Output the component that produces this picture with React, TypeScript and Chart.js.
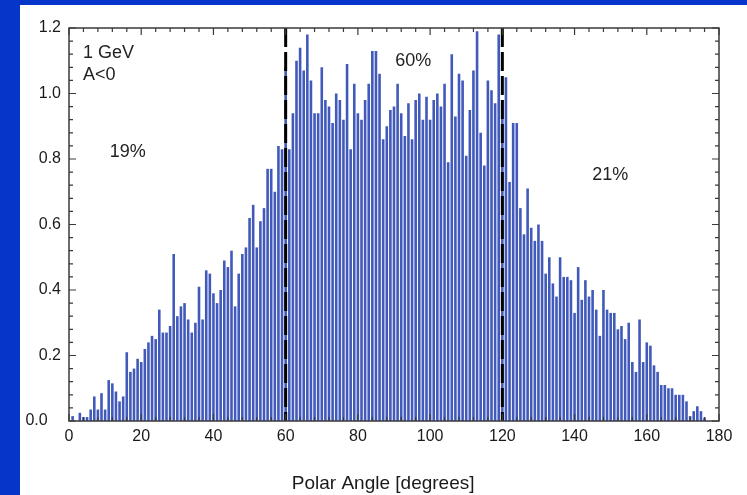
import { useEffect, useRef } from 'react';
import { Chart, registerables } from 'chart.js';

Chart.register(...registerables);

// Bin centres in degrees (1-degree histogram bins)
const angles = [
  0, 1, 2, 3, 4, 5, 6, 7, 8, 9, 10, 11, 12, 13, 14, 15, 16, 17, 18, 19,
  20, 21, 22, 23, 24, 25, 26, 27, 28, 29, 30, 31, 32, 33, 34, 35, 36, 37, 38, 39,
  40, 41, 42, 43, 44, 45, 46, 47, 48, 49, 50, 51, 52, 53, 54, 55, 56, 57, 58, 59,
  60, 61, 62, 63, 64, 65, 66, 67, 68, 69, 70, 71, 72, 73, 74, 75, 76, 77, 78, 79,
  80, 81, 82, 83, 84, 85, 86, 87, 88, 89, 90, 91, 92, 93, 94, 95, 96, 97, 98, 99,
  100, 101, 102, 103, 104, 105, 106, 107, 108, 109, 110, 111, 112, 113, 114, 115, 116, 117, 118, 119,
  120, 121, 122, 123, 124, 125, 126, 127, 128, 129, 130, 131, 132, 133, 134, 135, 136, 137, 138, 139,
  140, 141, 142, 143, 144, 145, 146, 147, 148, 149, 150, 151, 152, 153, 154, 155, 156, 157, 158, 159,
  160, 161, 162, 163, 164, 165, 166, 167, 168, 169, 170, 171, 172, 173, 174, 175, 176, 177, 178, 179,
];

// Relative yield per bin
const yields = [
  0, 0.015, 0, 0.025, 0.012, 0.012, 0.035, 0.075, 0.035, 0.085,
  0.035, 0.125, 0.115, 0.09, 0.06, 0.075, 0.21, 0.15, 0.16, 0.19,
  0.18, 0.22, 0.24, 0.26, 0.25, 0.34, 0.27, 0.27, 0.29, 0.51,
  0.32, 0.35, 0.36, 0.31, 0.27, 0.30, 0.41, 0.31, 0.46, 0.45,
  0.39, 0.36, 0.40, 0.49, 0.47, 0.52, 0.35, 0.45, 0.51, 0.53,
  0.62, 0.66, 0.53, 0.61, 0.65, 0.77, 0.77, 0.70, 0.84, 0.83,
  1.08, 0.83, 0.94, 1.10, 1.14, 1.07, 1.18, 1.04, 0.94, 0.94,
  1.08, 0.98, 0.96, 0.91, 1.00, 0.98, 0.92, 1.09, 0.83, 1.03,
  0.94, 0.92, 0.98, 1.03, 1.13, 1.13, 1.06, 0.86, 0.90, 0.95,
  0.96, 1.03, 0.94, 0.87, 0.97, 0.86, 0.98, 1.00, 0.92, 0.99,
  0.92, 0.98, 1.00, 0.96, 1.03, 0.79, 1.12, 0.93, 1.06, 1.04,
  0.81, 0.95, 1.07, 1.19, 0.88, 0.78, 1.04, 1.01, 0.97, 1.18,
  0.98, 1.05, 0.73, 0.91, 0.91, 0.65, 0.57, 0.71, 0.59, 0.55,
  0.60, 0.55, 0.45, 0.50, 0.42, 0.38, 0.50, 0.44, 0.44, 0.43,
  0.33, 0.47, 0.37, 0.43, 0.38, 0.40, 0.34, 0.26, 0.40, 0.34,
  0.33, 0.33, 0.28, 0.29, 0.25, 0.30, 0.18, 0.15, 0.31, 0.18,
  0.24, 0.23, 0.17, 0.15, 0.11, 0.11, 0.10, 0.10, 0.08, 0.08,
  0.08, 0.06, 0.015, 0.03, 0.045, 0.03, 0.01, 0, 0, 0,
];

// Region boundaries (degrees) and region labels
const cutAngles = [60, 120];
const noteTexts = ['1 GeV', 'A<0', '19%', '60%', '21%'];
const noteAngles = [3.9, 3.9, 16.3, 95.3, 149.9];
const noteValues = [1.124, 1.057, 0.82, 1.1, 0.75];
const noteAlign: CanvasTextAlign[] = ['left', 'left', 'center', 'center', 'center'];

const xTitle = 'Polar Angle [degrees]';
const FONT = '"Liberation Sans", Arial, Helvetica, sans-serif';

const framePlugin = {
  id: 'frameAndMarks',
  afterDatasetsDraw(chart: any) {
    const { ctx, chartArea: a, scales } = chart;
    const x = scales.x;
    const y = scales.y;
    ctx.save();

    // dashed region boundaries
    ctx.strokeStyle = '#000';
    ctx.lineWidth = 3;
    ctx.setLineDash([19, 5]);
    for (const c of cutAngles) {
      const px = x.getPixelForValue(c);
      ctx.beginPath();
      ctx.moveTo(px, a.top);
      ctx.lineTo(px, a.bottom);
      ctx.stroke();
    }
    ctx.setLineDash([]);

    // frame
    ctx.strokeStyle = '#3a3a3a';
    ctx.lineWidth = 1.5;
    ctx.strokeRect(a.left, a.top, a.right - a.left, a.bottom - a.top);

    // inward tick marks
    ctx.lineWidth = 1.2;
    ctx.beginPath();
    for (let i = 0; i <= 45; i++) {
      const v = i * 4;
      const len = v % 20 === 0 ? 7 : 4;
      const px = x.getPixelForValue(v);
      ctx.moveTo(px, a.top);
      ctx.lineTo(px, a.top + len);
      ctx.moveTo(px, a.bottom);
      ctx.lineTo(px, a.bottom - len);
    }
    for (let i = 0; i <= 30; i++) {
      const v = i * 0.04;
      const len = i % 5 === 0 ? 7 : 4;
      const py = y.getPixelForValue(v);
      ctx.moveTo(a.left, py);
      ctx.lineTo(a.left + len, py);
      ctx.moveTo(a.right, py);
      ctx.lineTo(a.right - len, py);
    }
    ctx.stroke();

    // labels inside the plot
    ctx.fillStyle = '#222';
    ctx.font = `18px ${FONT}`;
    ctx.textBaseline = 'middle';
    noteTexts.forEach((t, i) => {
      ctx.textAlign = noteAlign[i];
      ctx.fillText(t, x.getPixelForValue(noteAngles[i]), y.getPixelForValue(noteValues[i]));
    });

    // axis title below the tick labels
    ctx.fillStyle = '#1a1a1a';
    ctx.font = `19px ${FONT}`;
    ctx.textAlign = 'center';
    ctx.fillText(xTitle, x.getPixelForValue(87), 484);
    ctx.restore();
  },
};

export default function App() {
  const canvasRef = useRef<HTMLCanvasElement | null>(null);

  useEffect(() => {
    const canvas = canvasRef.current;
    if (!canvas) return;
    const chart = new Chart(canvas, {
      type: 'bar',
      data: {
        datasets: [
          {
            data: angles.map((a, i) => ({ x: a, y: yields[i] })),
            backgroundColor: '#4059ba',
            borderWidth: 0,
            barPercentage: 0.72,
            categoryPercentage: 1,
          },
        ],
      },
      options: {
        responsive: false,
        animation: false,
        events: [],
        layout: { padding: { left: 20, top: 28, right: 28, bottom: 0 } },
        plugins: { legend: { display: false }, tooltip: { enabled: false } },
        scales: {
          x: {
            type: 'linear',
            min: 0,
            max: 180,
            offset: false,
            grid: { display: false, drawTicks: false },
            border: { display: false },
            ticks: {
              stepSize: 20,
              padding: 6,
              color: '#1a1a1a',
              font: { family: FONT, size: 16 },
              maxRotation: 0,
            },
            afterFit: (s: any) => {
              s.height = 74;
            },
          },
          y: {
            min: 0,
            max: 1.2,
            grid: { display: false, drawTicks: false },
            border: { display: false },
            ticks: {
              stepSize: 0.2,
              padding: 8,
              color: '#1a1a1a',
              font: { family: FONT, size: 16 },
              callback: (v: any) => (Number(v) === 0 ? '0.0   ' : Number(v).toFixed(1)),
            },
            afterFit: (s: any) => {
              s.width = 49;
            },
          },
        },
      },
      plugins: [framePlugin],
    });
    return () => chart.destroy();
  }, []);

  return (
    <div style={{ position: 'fixed', left: 0, top: 0, width: 747, height: 495, background: '#0635c9', overflow: 'hidden' }}>
      <div style={{ position: 'absolute', left: 20, top: 5, right: 0, bottom: 0, background: '#ffffff' }} />
      <canvas ref={canvasRef} width={747} height={495} style={{ position: 'absolute', left: 0, top: 0, width: 747, height: 495 }} />
    </div>
  );
}
